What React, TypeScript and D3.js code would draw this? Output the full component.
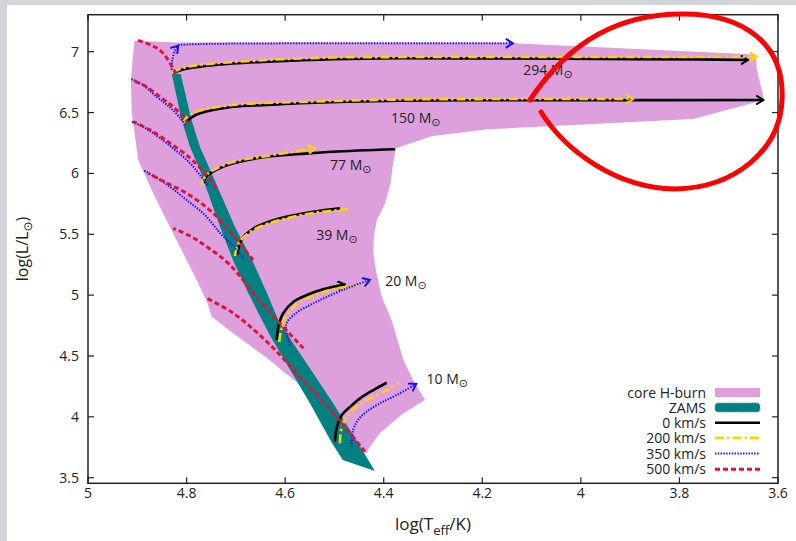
import React from 'react';
import * as d3 from 'd3';

type P = [number, number];

const W = 796;
const H = 541;

const xTicks = [5, 4.8, 4.6, 4.4, 4.2, 4, 3.8, 3.6];
const yTicks = [3.5, 4, 4.5, 5, 5.5, 6, 6.5, 7];

// core hydrogen-burning region (logTeff, logL)
const coreHBurn: P[] = [
  [4.906, 7.09], [4.821, 7.076], [4.57, 7.076], [4.149, 7.071], [3.645, 6.977], [3.643, 6.858],
  [3.628, 6.603], [3.772, 6.447], [4.19, 6.362], [4.303, 6.305], [4.375, 6.206], [4.381, 6.083],
  [4.386, 5.921], [4.397, 5.757], [4.414, 5.617], [4.42, 5.48], [4.421, 5.346], [4.416, 5.206],
  [4.404, 4.987], [4.384, 4.796], [4.36, 4.467], [4.337, 4.276], [4.316, 4.138], [4.36, 4.029],
  [4.408, 3.865], [4.428, 3.755], [4.435, 3.7], [4.479, 3.769], [4.525, 4.097], [4.57, 4.262],
  [4.637, 4.483], [4.706, 4.689], [4.749, 4.823], [4.757, 4.93], [4.773, 5.069], [4.8, 5.289],
  [4.834, 5.562], [4.868, 5.839], [4.898, 6.11], [4.911, 6.489], [4.913, 6.772],
];

// ZAMS band edges
const zamsHot: P[] = [
  [4.83, 6.817], [4.81, 6.439], [4.793, 6.219], [4.773, 6.028], [4.732, 5.562], [4.706, 5.289],
  [4.675, 5.017], [4.647, 4.796], [4.629, 4.656], [4.55, 4.114], [4.505, 3.785], [4.483, 3.645],
];
const zamsCool: P[] = [
  [4.812, 6.817], [4.79, 6.439], [4.773, 6.219], [4.752, 6.028], [4.702, 5.562], [4.667, 5.289],
  [4.637, 5.017], [4.614, 4.796], [4.592, 4.656], [4.503, 4.114], [4.452, 3.785], [4.418, 3.555],
];

// tracks: 294 Msun
const m294_v0: P[] = [[4.827, 6.827], [4.803, 6.858], [4.773, 6.877], [4.706, 6.903], [4.637, 6.918], [4.503, 6.938], [4.367, 6.946], [4.164, 6.944], [3.961, 6.94], [3.758, 6.936], [3.661, 6.932]];
const m294_v200: P[] = [[4.83, 6.833], [4.803, 6.87], [4.773, 6.891], [4.637, 6.932], [4.503, 6.952], [4.367, 6.956], [4.164, 6.956], [3.961, 6.956], [3.758, 6.958], [3.643, 6.959]];
const m294_v350_rise: P[] = [[4.83, 6.85], [4.829, 6.932], [4.823, 7.014], [4.817, 7.05]];
const m294_v350: P[] = [[4.817, 7.055], [4.773, 7.063], [4.57, 7.069], [4.367, 7.069], [4.138, 7.069]];
const m294_v500: P[] = [[4.821, 6.817], [4.834, 6.907], [4.848, 6.989], [4.868, 7.047], [4.901, 7.096]];
// 150 Msun
const m150_v0: P[] = [[4.8, 6.422], [4.789, 6.463], [4.773, 6.494], [4.706, 6.548], [4.637, 6.562], [4.57, 6.576], [4.367, 6.597], [4.164, 6.601], [3.961, 6.602], [3.63, 6.603]];
const m150_v200: P[] = [[4.807, 6.406], [4.801, 6.455], [4.783, 6.505], [4.706, 6.562], [4.57, 6.587], [4.367, 6.607], [4.164, 6.611], [3.894, 6.611]];
const m150_v350: P[] = [[4.803, 6.398], [4.813, 6.455], [4.828, 6.521], [4.842, 6.57], [4.861, 6.63], [4.888, 6.726], [4.915, 6.781]];
const m150_v500: P[] = [[4.796, 6.406], [4.807, 6.463], [4.82, 6.521], [4.834, 6.57], [4.854, 6.63], [4.884, 6.718], [4.911, 6.767]];
// 77 Msun
const m77_v0: P[] = [[4.766, 5.919], [4.761, 5.971], [4.752, 6.001], [4.732, 6.044], [4.705, 6.083], [4.637, 6.137], [4.57, 6.159], [4.503, 6.178], [4.377, 6.198]];
const m77_v200: P[] = [[4.769, 5.905], [4.763, 5.971], [4.752, 6.012], [4.706, 6.094], [4.637, 6.143], [4.539, 6.206]];
const m77_v350: P[] = [[4.757, 5.905], [4.773, 5.987], [4.793, 6.085], [4.823, 6.192], [4.854, 6.291], [4.884, 6.373], [4.911, 6.425]];
const m77_v500: P[] = [[4.739, 5.878], [4.763, 6.003], [4.793, 6.127], [4.834, 6.25], [4.874, 6.357], [4.908, 6.425]];
// 39 Msun
const m39_v0: P[] = [[4.698, 5.33], [4.692, 5.42], [4.685, 5.48], [4.671, 5.527], [4.658, 5.562], [4.61, 5.631], [4.543, 5.685], [4.489, 5.713]];
const m39_v200: P[] = [[4.702, 5.321], [4.696, 5.412], [4.686, 5.47], [4.661, 5.544], [4.61, 5.618], [4.543, 5.675], [4.472, 5.705]];
const m39_v350: P[] = [[4.685, 5.302], [4.702, 5.387], [4.732, 5.51], [4.763, 5.659], [4.8, 5.782], [4.844, 5.921], [4.888, 6.028]];
const m39_v500: P[] = [[4.665, 5.289], [4.698, 5.453], [4.732, 5.618], [4.763, 5.732], [4.8, 5.837], [4.84, 5.921], [4.878, 6.001]];
// 20 Msun
const m20_v0: P[] = [[4.617, 4.631], [4.614, 4.738], [4.604, 4.851], [4.583, 4.946], [4.556, 5.001], [4.523, 5.048], [4.479, 5.089]];
const m20_v200: P[] = [[4.612, 4.615], [4.608, 4.713], [4.6, 4.812], [4.586, 4.886], [4.57, 4.943], [4.539, 5.001], [4.499, 5.05], [4.452, 5.083]];
const m20_v350: P[] = [[4.59, 4.59], [4.598, 4.755], [4.583, 4.837], [4.536, 4.946], [4.475, 5.056], [4.428, 5.125]];
const m20_v500: P[] = [[4.563, 4.563], [4.617, 4.796], [4.658, 4.985], [4.712, 5.248], [4.759, 5.398], [4.793, 5.486], [4.827, 5.549]];
// 10 Msun
const m10_v0: P[] = [[4.499, 3.796], [4.495, 3.919], [4.485, 4.015], [4.468, 4.083], [4.448, 4.152], [4.421, 4.22], [4.394, 4.28]];
const m10_v200: P[] = [[4.489, 3.783], [4.485, 3.919], [4.475, 4.001], [4.455, 4.083], [4.428, 4.152], [4.394, 4.22], [4.37, 4.276]];
const m10_v350: P[] = [[4.465, 3.755], [4.462, 3.892], [4.452, 3.974], [4.435, 4.042], [4.408, 4.111], [4.374, 4.179], [4.334, 4.27]];
const m10_v500: P[] = [[4.438, 3.714], [4.502, 4.029], [4.57, 4.33], [4.637, 4.617], [4.705, 4.851], [4.759, 4.974]];

const massLabels = ['294', '150', '77', '39', '20', '10'];
const massLabelT = [4.117, 4.385, 4.509, 4.537, 4.397, 4.313];
const massLabelL = [6.809, 6.414, 6.032, 5.453, 5.077, 4.27];

const legendLabels = ['core H-burn', 'ZAMS', '0 km/s', '200 km/s', '350 km/s', '500 km/s'];

const styles: Record<string, { stroke: string; width: number; dash: string }> = {
  v0: { stroke: '#000000', width: 2.6, dash: 'none' },
  v200: { stroke: '#ffd200', width: 2.6, dash: '9,3,2.5,3' },
  v350: { stroke: '#1010ff', width: 2, dash: '1.4,1.4' },
  v500: { stroke: '#dc143c', width: 3, dash: '5,3' },
};

const tracks: { pts: P[]; v: string; arrow: boolean }[] = [
  { pts: m10_v0, v: 'v0', arrow: false },
  { pts: m20_v0, v: 'v0', arrow: true },
  { pts: m39_v0, v: 'v0', arrow: false },
  { pts: m77_v0, v: 'v0', arrow: false },
  { pts: m150_v0, v: 'v0', arrow: true },
  { pts: m294_v0, v: 'v0', arrow: true },
  { pts: m10_v200, v: 'v200', arrow: false },
  { pts: m20_v200, v: 'v200', arrow: false },
  { pts: m39_v200, v: 'v200', arrow: false },
  { pts: m77_v200, v: 'v200', arrow: true },
  { pts: m150_v200, v: 'v200', arrow: true },
  { pts: m294_v200, v: 'v200', arrow: true },
  { pts: m10_v350, v: 'v350', arrow: true },
  { pts: m20_v350, v: 'v350', arrow: true },
  { pts: m39_v350, v: 'v350', arrow: false },
  { pts: m77_v350, v: 'v350', arrow: false },
  { pts: m150_v350, v: 'v350', arrow: false },
  { pts: m294_v350_rise, v: 'v350', arrow: true },
  { pts: m294_v350, v: 'v350', arrow: true },
  { pts: m10_v500, v: 'v500', arrow: false },
  { pts: m20_v500, v: 'v500', arrow: false },
  { pts: m39_v500, v: 'v500', arrow: false },
  { pts: m77_v500, v: 'v500', arrow: false },
  { pts: m150_v500, v: 'v500', arrow: false },
  { pts: m294_v500, v: 'v500', arrow: false },
];

const FONT = '"Open Sans", "DejaVu Sans", sans-serif';

export default function App() {
  const left = 88, right = 778, top = 14.7, bottom = 483.3;
  const x = d3.scaleLinear().domain([5, 3.6]).range([left, right]);
  const y = d3.scaleLinear().domain([3.454, 7.304]).range([bottom, top]);

  const poly = d3.line<P>().x((d) => x(d[0])).y((d) => y(d[1]));
  const curve = d3
    .line<P>()
    .x((d) => x(d[0]))
    .y((d) => y(d[1]))
    .curve(d3.curveCatmullRom.alpha(0.5));

  const zamsPoly = [...zamsHot, ...zamsCool.slice().reverse()];

  const legX0 = 715, legX1 = 760, legTextX = 706;
  const legY = [392.5, 407.5, 422.7, 437.9, 453.6, 469.2];

  return (
    <svg width={W} height={H} style={{ position: 'absolute', left: 0, top: 0 }} fontFamily={FONT}>
      <defs>
        {Object.entries(styles).map(([k, s]) => (
          <marker
            key={k}
            id={`arr-${k}`}
            markerUnits="userSpaceOnUse"
            markerWidth={12}
            markerHeight={12}
            refX={8}
            refY={5}
            orient="auto"
          >
            <path d="M1,0.5 L8,5 L1,9.5" fill="none" stroke={s.stroke} strokeWidth={2} strokeDasharray="none" />
          </marker>
        ))}
        <clipPath id="plotclip">
          <rect x={left} y={top} width={right - left} height={bottom - top} />
        </clipPath>
      </defs>
      <rect x={0} y={0} width={W} height={H} fill="#d4d4dc" />
      <rect x={7} y={5} width={W - 7} height={H - 5} fill="#ffffff" />

      <g clipPath="url(#plotclip)">
        <path d={poly(coreHBurn) + 'Z'} fill="#dda0dd" />
        <path d={poly(zamsPoly) + 'Z'} fill="#008080" />
        {tracks.map((t, i) => {
          const s = styles[t.v];
          return (
            <path
              key={i}
              d={curve(t.pts) || ''}
              fill="none"
              stroke={s.stroke}
              strokeWidth={s.width}
              strokeDasharray={s.dash}
              strokeLinecap="butt"
              markerEnd={t.arrow ? `url(#arr-${t.v})` : undefined}
            />
          );
        })}
      </g>

      {massLabels.map((m, i) => (
        <text key={m} x={x(massLabelT[i])} y={y(massLabelL[i])} fontSize={14} fill="#222">
          {m} M
          <tspan fontSize={11} dy={3} fontFamily="DejaVu Sans">⊙</tspan>
        </text>
      ))}

      {/* frame */}
      <rect x={left} y={top} width={right - left} height={bottom - top} fill="none" stroke="#222" strokeWidth={1.5} />
      {xTicks.map((t) => (
        <g key={'x' + t}>
          <line x1={x(t)} x2={x(t)} y1={bottom} y2={bottom - 6} stroke="#222" strokeWidth={1.2} />
          <line x1={x(t)} x2={x(t)} y1={top} y2={top + 6} stroke="#222" strokeWidth={1.2} />
          <text x={x(t)} y={bottom + 15} textAnchor="middle" fontSize={14} fill="#222">
            {String(+t.toFixed(1))}
          </text>
        </g>
      ))}
      {yTicks.map((t) => (
        <g key={'y' + t}>
          <line x1={left} x2={left + 6} y1={y(t)} y2={y(t)} stroke="#222" strokeWidth={1.2} />
          <line x1={right} x2={right - 6} y1={y(t)} y2={y(t)} stroke="#222" strokeWidth={1.2} />
          <text x={79} y={y(t) + 5} textAnchor="end" fontSize={14} fill="#222">
            {String(+t.toFixed(1))}
          </text>
        </g>
      ))}

      <text transform={`translate(28,${(top + bottom) / 2}) rotate(-90)`} textAnchor="middle" fontSize={16} fill="#222">
        log(L/L<tspan fontSize={12} dy={4} fontFamily="DejaVu Sans">⊙</tspan>
        <tspan dy={-4}>)</tspan>
      </text>
      <text x={(left + right) / 2} y={530} textAnchor="middle" fontSize={17} fill="#222">
        log(T<tspan fontSize={13} dy={5}>eff</tspan>
        <tspan dy={-5}>/K)</tspan>
      </text>

      {/* legend */}
      {legendLabels.map((l, i) => (
        <text key={l} x={legTextX} y={legY[i] + 5} textAnchor="end" fontSize={14} fill="#222">
          {l}
        </text>
      ))}
      <rect x={legX0} y={legY[0] - 4.5} width={legX1 - legX0} height={9} fill="#dda0dd" />
      <rect x={legX0} y={legY[1] - 4.5} width={legX1 - legX0} height={9} rx={3} fill="#008080" stroke="#66b3b3" strokeWidth={1} strokeDasharray="2,1.5" />
      {(['v0', 'v200', 'v350', 'v500'] as const).map((k, i) => (
        <line
          key={k}
          x1={legX0}
          x2={legX1}
          y1={legY[i + 2]}
          y2={legY[i + 2]}
          stroke={styles[k].stroke}
          strokeWidth={styles[k].width}
          strokeDasharray={styles[k].dash}
        />
      ))}

      {/* hand-drawn annotation */}
      <path
        d="M530,100 C570,40 620,14 683,14 C745,14 785,45 782,100 C780,150 735,188 675,189 C615,188 565,150 541,112"
        fill="none"
        stroke="#ff0000"
        strokeWidth={5}
        strokeLinecap="round"
      />
    </svg>
  );
}
